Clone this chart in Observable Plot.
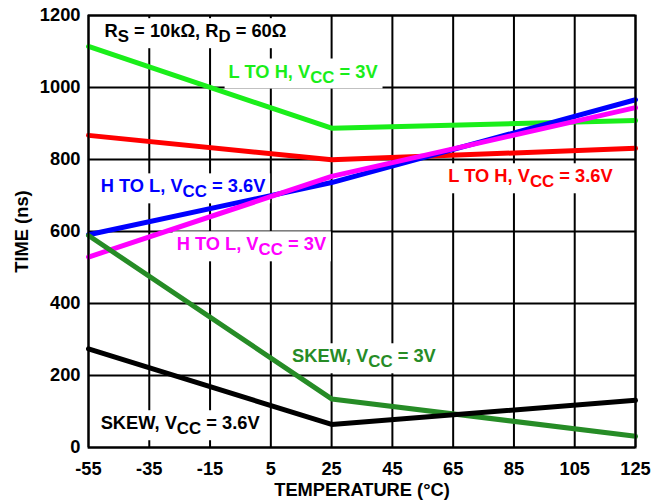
<!DOCTYPE html>
<html><head><meta charset="utf-8">
<script src="https://cdn.jsdelivr.net/npm/d3@7"></script>
<script src="https://cdn.jsdelivr.net/npm/@observablehq/plot@0.6"></script>
<style>body{margin:0;background:#fff} svg{display:block}</style>
</head><body><div id="chart"></div>
<script>
// Data
const temps = [-55, 25, 125];
const lToH3V  = [1114, 887, 908];
const lToH36V = [867, 799, 831];
const hToL36V = [591, 736, 966];
const hToL3V  = [529, 753, 944];
const skew3V  = [589, 135, 31];
const skew36V = [274, 64, 131];

const seriesNames  = ["L TO H 3V", "L TO H 3.6V", "H TO L 3.6V", "H TO L 3V", "SKEW 3V", "SKEW 3.6V"];
const seriesValues = [lToH3V, lToH36V, hToL36V, hToL3V, skew3V, skew36V];
const seriesColors = ["#1aee1a", "#ff0000", "#0000ff", "#ff00ff", "#268c26", "#000000"];

const xTicks = [-55, -35, -15, 5, 25, 45, 65, 85, 105, 125];
const yTicks = [0, 200, 400, 600, 800, 1000, 1200];

const labelTexts  = ["R_{S} = 10kΩ, R_{D} = 60Ω", "L TO H, V_{CC} = 3V", "H TO L, V_{CC} = 3.6V", "H TO L, V_{CC} = 3V", "L TO H, V_{CC} = 3.6V", "SKEW, V_{CC} = 3V", "SKEW, V_{CC} = 3.6V"];
const labelX      = [-49.7, -8.9, -51, -26, 63.4, 12, -51];
const labelY      = [1156, 1044, 725, 564, 753, 253, 67];
const labelColors = ["#000000", "#1aee1a", "#0000ff", "#ff00ff", "#ff0000", "#268c26", "#000000"];

const rows = seriesNames.flatMap((name, i) => temps.map((t, j) => ({series: name, t, v: seriesValues[i][j]})));
const labels = labelTexts.map((text, i) => ({text, x: labelX[i], y: labelY[i], color: labelColors[i]}));

const FS = 18.3;
const plot = Plot.plot({
  width: 665, height: 504,
  marginLeft: 88, marginRight: 30, marginTop: 15, marginBottom: 57,
  style: {fontFamily: "'Liberation Sans', Arial, sans-serif", fontSize: FS + "px", fontWeight: "bold", background: "white", color: "black"},
  x: {domain: [-55, 125]},
  y: {domain: [0, 1200]},
  color: {domain: seriesNames, range: seriesColors},
  marks: [
    Plot.gridX(xTicks, {stroke: "black", strokeOpacity: 1, strokeWidth: 2}),
    Plot.gridY(yTicks, {stroke: "black", strokeOpacity: 1, strokeWidth: 2}),
    Plot.axisX(xTicks, {tickSize: 0, tickPadding: 14, fontSize: FS, tickFormat: d => String(d), label: "TEMPERATURE (°C)", labelAnchor: "center", labelArrow: "none", labelOffset: 48}),
    Plot.axisY(yTicks, {tickSize: 0, tickPadding: 8, fontSize: FS, tickFormat: d => String(d), label: "TIME (ns)", labelAnchor: "center", labelArrow: "none", labelOffset: 74}),
    Plot.text(labels, {x: "x", y: "y", text: "text", fill: "color", textAnchor: "start", fontSize: FS, fontWeight: "bold"}),
    Plot.line(rows, {x: "t", y: "v", z: "series", stroke: "series", strokeWidth: 5, strokeLinejoin: "round"}),
    Plot.frame({stroke: "black", strokeWidth: 2})
  ]
});
document.getElementById("chart").append(plot);

// subscripts + white label boxes
plot.querySelectorAll("text").forEach(function(node) {
  const s = node.textContent;
  if (!s.includes("_{")) return;
  while (node.firstChild) node.removeChild(node.firstChild);
  let shifted = false;
  for (const p of s.split(/(_\{[^}]*\})/)) {
    if (!p) continue;
    const t = document.createElementNS("http://www.w3.org/2000/svg", "tspan");
    const m = p.match(/^_\{(.*)\}$/);
    if (m) { t.textContent = m[1]; t.setAttribute("dy", 5); t.setAttribute("font-size", "0.92em"); shifted = true; }
    else { t.textContent = p; if (shifted) { t.setAttribute("dy", -5); shifted = false; } }
    node.appendChild(t);
  }
  const b = node.getBBox();
  const r = document.createElementNS("http://www.w3.org/2000/svg", "rect");
  r.setAttribute("x", b.x - 4); r.setAttribute("y", b.y - 2);
  r.setAttribute("width", b.width + 8); r.setAttribute("height", b.height + 4);
  r.setAttribute("fill", "white");
  if (node.getAttribute("transform")) r.setAttribute("transform", node.getAttribute("transform"));
  node.parentNode.insertBefore(r, node);
});
</script>
</body></html>
